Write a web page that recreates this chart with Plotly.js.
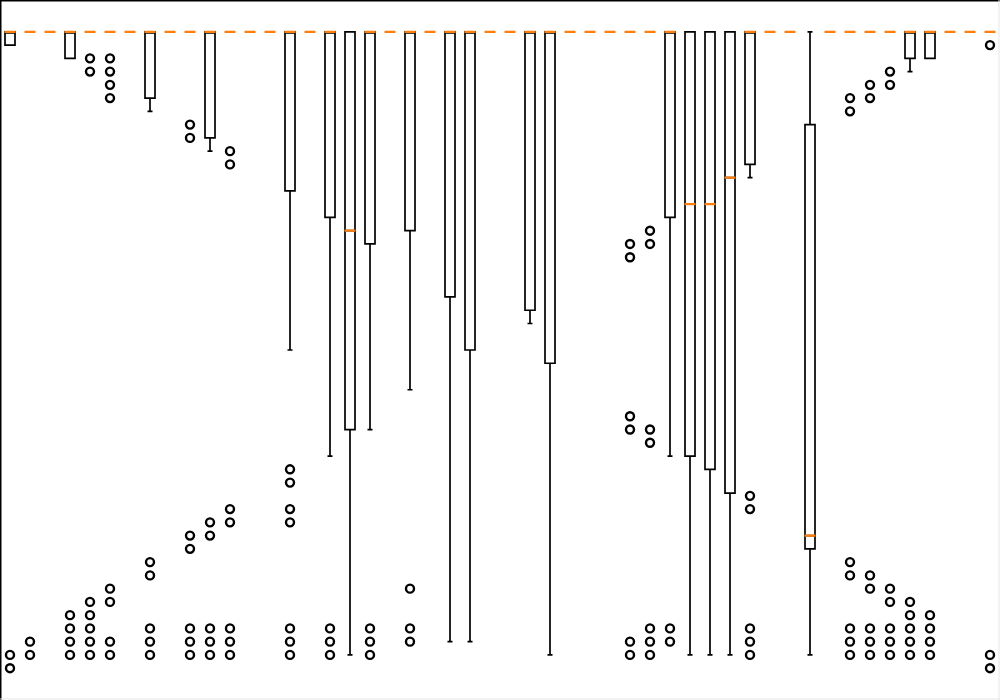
<!DOCTYPE html>
<html>
<head>
<meta charset="utf-8">
<script src="https://cdn.plot.ly/plotly-3.0.1.min.js"></script>
<style>html,body{margin:0;padding:0;background:#fff;}#chart{width:1000px;height:700px;}</style>
</head>
<body>
<div id="chart"></div>
<script>
const positions = [1,2,3,4,5,6,7,8,9,10,11,12,13,14,15,16,17,18,19,20,21,22,23,24,25,26,27,28,29,30,31,32,33,34,35,36,37,38,39,40,41,42,43,44,45,46,47,48,49,50];
const q1Values     = [47,48,48,46,48,48,48,43,48,48,40,48,48,48,36,48,34,18,32,48,33,48,28,24,48,48,27,23,48,48,48,48,48,34,16,15,13.2,38,48,48,9,48,48,48,48,46,46,48,48,48];
const medianValues = [48,48,48,48,48,48,48,48,48,48,48,48,48,48,48,48,48,33,48,48,48,48,48,48,48,48,48,48,48,48,48,48,48,48,35,35,37,48,48,48,10,48,48,48,48,48,48,48,48,48];
const q3Values     = [48,48,48,48,48,48,48,48,48,48,48,48,48,48,48,48,48,48,48,48,48,48,48,48,48,48,48,48,48,48,48,48,48,48,48,48,48,48,48,48,41,48,48,48,48,48,48,48,48,48];
const lowerWhisker = [47,48,48,46,48,48,48,42,48,48,39,48,48,48,24,48,16,1,18,48,21,48,2,2,48,48,26,1,48,48,48,48,48,16,1,1,1,37,48,48,1,48,48,48,48,45,46,48,48,48];
const upperWhisker = [48,48,48,48,48,48,48,48,48,48,48,48,48,48,48,48,48,48,48,48,48,48,48,48,48,48,48,48,48,48,48,48,48,48,48,48,48,48,48,48,48,48,48,48,48,48,48,48,48,48];
const fliers = [
  [1,0],[2,1],[],[4,3,2,1],[46,45,5,4,3,2,1],[46,45,44,43,6,5,2,1],[],[8,7,3,2,1],[],[41,40,10,9,3,2,1],
  [11,10,3,2,1],[39,38,12,11,3,2,1],[],[],[15,14,12,11,3,2,1],[],[3,2,1],[],[3,2,1],[],
  [6,3,2],[],[],[],[],[],[],[],[],[],
  [],[32,31,19,18,2,1],[33,32,18,17,3,2,1],[3,2],[],[],[],[13,12,3,2,1],[],[],
  [],[],[43,42,8,7,3,2,1],[44,43,7,6,3,2,1],[45,44,6,5,3,2,1],[5,4,3,2,1],[4,3,2,1],[],[],[47,1,0]
];

const flierX = [], flierY = [];
fliers.forEach((arr, i) => arr.forEach(v => { flierX.push(positions[i]); flierY.push(v); }));

const boxes = {
  type: 'box', x: positions,
  q1: q1Values, median: medianValues, q3: q3Values,
  lowerfence: lowerWhisker, upperfence: upperWhisker,
  boxpoints: false, width: 0.5, whiskerwidth: 0.5,
  line: {color: '#000000', width: 1.7},
  fillcolor: 'rgba(0,0,0,0)', hoverinfo: 'skip'
};
const medians = {
  type: 'box', x: positions,
  q1: medianValues, median: medianValues, q3: medianValues,
  lowerfence: medianValues, upperfence: medianValues,
  boxpoints: false, width: 0.55, whiskerwidth: 0,
  line: {color: '#ff7f0e', width: 2.2},
  fillcolor: 'rgba(0,0,0,0)', hoverinfo: 'skip'
};
const flierTrace = {
  type: 'scatter', mode: 'markers', x: flierX, y: flierY,
  marker: {symbol: 'circle-open', size: 8, color: '#000000', line: {width: 2.4, color: '#000000'}},
  hoverinfo: 'skip'
};

const layout = {
  width: 1000, height: 700,
  margin: {l: 0, r: 0, t: 0, b: 0, pad: 0},
  paper_bgcolor: '#ffffff', plot_bgcolor: '#ffffff',
  showlegend: false, boxmode: 'overlay',
  xaxis: {range: [0.5, 50.5], showgrid: false, zeroline: false, showticklabels: false, ticks: '', showline: false},
  yaxis: {range: [-2.4, 50.4], showgrid: false, zeroline: false, showticklabels: false, ticks: '', showline: false},
  shapes: [
    {type: 'line', xref: 'paper', yref: 'paper', x0: 0, x1: 0, y0: 0, y1: 1, line: {color: '#000', width: 3}},
    {type: 'line', xref: 'paper', yref: 'paper', x0: 0, x1: 1, y0: 1, y1: 1, line: {color: '#000', width: 3}},
    {type: 'line', xref: 'paper', yref: 'paper', x0: 0.999, x1: 0.999, y0: 0, y1: 1, line: {color: '#e6e6e6', width: 1}},
    {type: 'line', xref: 'paper', yref: 'paper', x0: 0, x1: 1, y0: 0.0015, y1: 0.0015, line: {color: '#e6e6e6', width: 1}}
  ]
};

Plotly.newPlot('chart', [boxes, medians, flierTrace], layout, {staticPlot: true, displayModeBar: false});
</script>
</body>
</html>
